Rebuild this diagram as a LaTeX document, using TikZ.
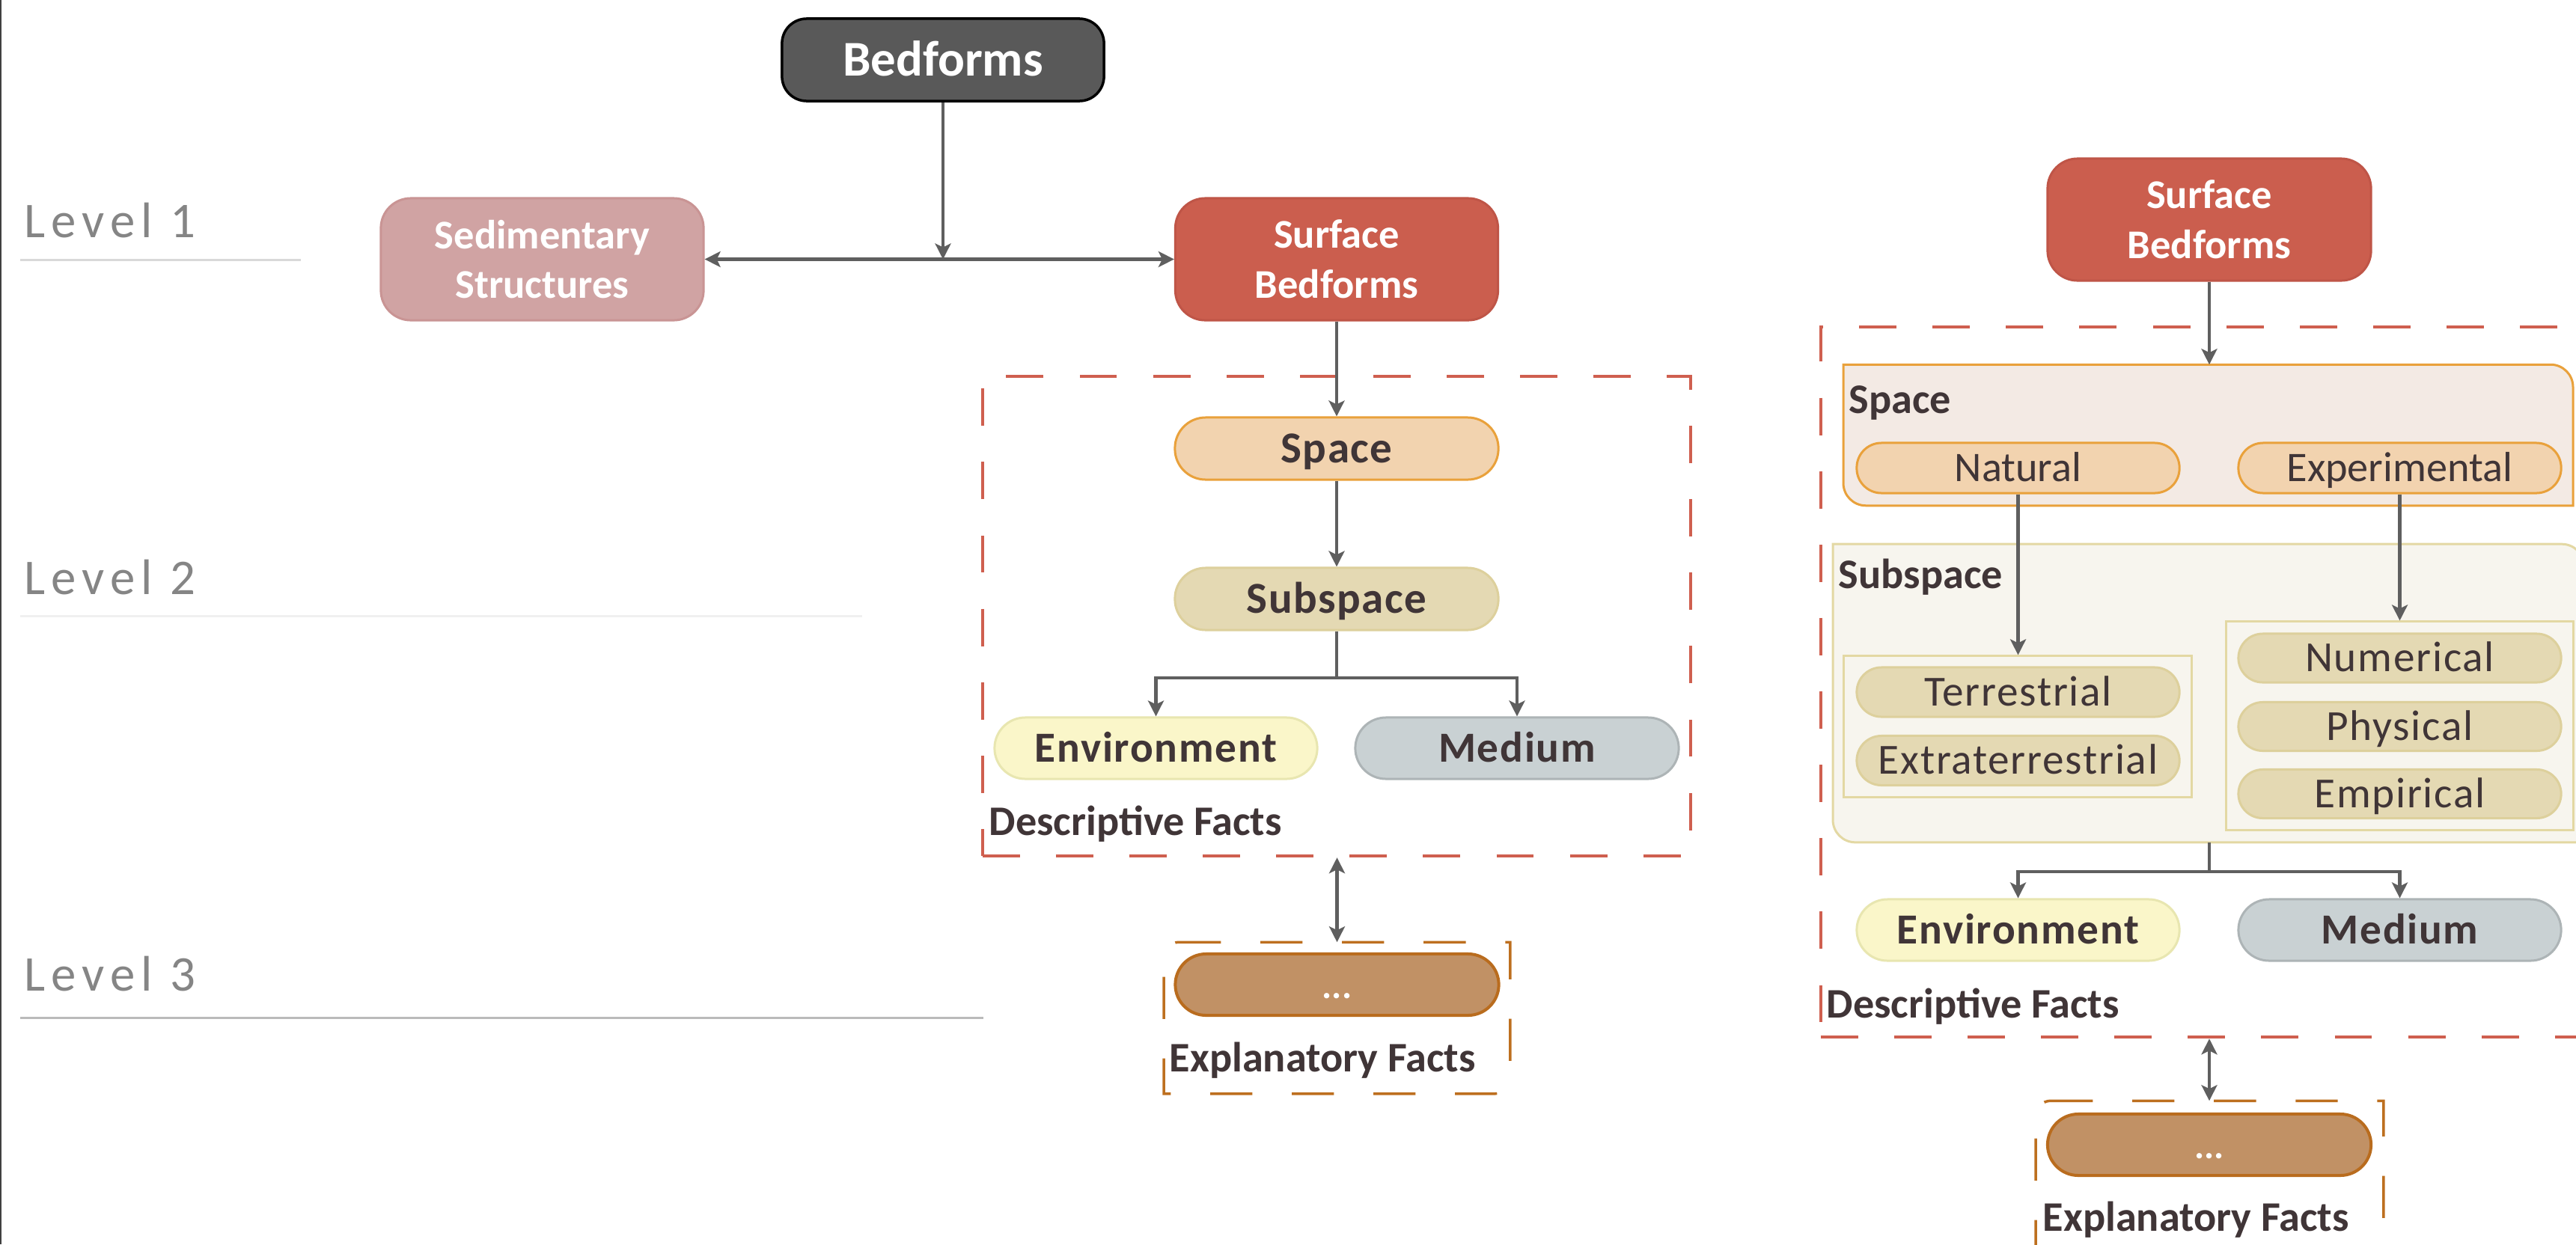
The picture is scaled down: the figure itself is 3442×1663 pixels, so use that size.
\documentclass[tikz,border=0pt]{standalone}
\usepackage{fontspec}
\setmainfont{Carlito}
\usetikzlibrary{arrows.meta}
\definecolor{txtc}{HTML}{403537}
\definecolor{arrowc}{HTML}{5F5F5F}
\definecolor{bedfill}{HTML}{595959}
\definecolor{sedfill}{HTML}{D0A3A3}
\definecolor{sedline}{HTML}{C99494}
\definecolor{surffill}{HTML}{CB5E4E}
\definecolor{surfline}{HTML}{BF5547}
\definecolor{spacefill}{HTML}{F2D3AF}
\definecolor{spaceline}{HTML}{E9A13B}
\definecolor{subfill}{HTML}{E4D9B3}
\definecolor{subline}{HTML}{DDD09C}
\definecolor{envfill}{HTML}{FAF6C9}
\definecolor{envline}{HTML}{E8E6B0}
\definecolor{medfill}{HTML}{C9D1D3}
\definecolor{medline}{HTML}{ADB4B6}
\definecolor{dotfill}{HTML}{C19165}
\definecolor{dotline}{HTML}{B96C1E}
\definecolor{expline}{HTML}{BD6F1F}
\definecolor{reddash}{HTML}{CF5F4F}
\definecolor{sppanel}{HTML}{F3EAE4}
\definecolor{sbpanel}{HTML}{F7F5EE}
\definecolor{sbpline}{HTML}{E3D8A3}
\definecolor{levelc}{HTML}{858585}
\newcommand{\fntBig}{\fontsize{19pt}{23pt}\selectfont\bfseries}
\newcommand{\fntTwo}{\fontsize{15.5pt}{19pt}\selectfont\bfseries}
\newcommand{\fntPill}{\fontsize{16.8pt}{19pt}\selectfont\bfseries\addfontfeature{LetterSpace=2.5}}
\newcommand{\fntEnv}{\fontsize{16.3pt}{19pt}\selectfont\bfseries\addfontfeature{LetterSpace=3}}
\newcommand{\fntReg}{\fontsize{16pt}{19pt}\selectfont}
\newcommand{\fntRegS}{\fontsize{16.3pt}{19pt}\selectfont\addfontfeature{LetterSpace=3}}
\newcommand{\fntLab}{\fontsize{16pt}{19pt}\selectfont\bfseries}
\newcommand{\fntLabB}{\fontsize{16pt}{19pt}\selectfont\bfseries}
\newcommand{\fntLevel}{\fontsize{19pt}{23pt}\selectfont\addfontfeature{LetterSpace=12}}
\newcommand{\fntDots}{\fontsize{14pt}{16pt}\selectfont\bfseries}
\begin{document}
\begin{tikzpicture}[x=0.01cm,y=-0.01cm,
  >={Stealth[length=0.21cm,width=0.21cm,inset=0.05cm]},
  pill/.style={rectangle, inner sep=0pt, line width=0.03cm},
  arr/.style={draw=arrowc, line width=0.045cm, ->},
  darr/.style={draw=arrowc, line width=0.045cm, <->},
  plainline/.style={draw=arrowc, line width=0.045cm},
  capA/.style={text height=12pt, text depth=0pt},
  capP/.style={text height=10.6pt, text depth=0pt},
  capE/.style={text height=10.3pt, text depth=0pt},
  capR/.style={text height=10.3pt, text depth=0pt},
  lab/.style={inner sep=0pt, anchor=base west, text=txtc},
  levellab/.style={inner sep=0pt, anchor=base west, text=levelc, font=\fntLevel},
  reddashed/.style={draw=reddash, line width=0.04cm, dash pattern=on 14.2pt off 13.7pt},
  expdashed/.style={draw=expline, line width=0.035cm, dash pattern=on 16pt off 15pt},
  ghost/.style={rectangle, inner sep=0pt, draw=none}
]
\useasboundingbox (0,0) rectangle (3442,1663);
\fill[white] (0,0) rectangle (3442,1663);
\clip (0,0) rectangle (3442,1663);

% left edge line
\draw[line width=0.025cm, color=black!75] (1,0) -- (1,1663);

% level lines and labels
\draw[line width=0.03cm, color=black!15] (27,347) -- (402,347);
\draw[line width=0.03cm, color=black!6] (27,823) -- (1152,823);
\draw[line width=0.03cm, color=black!27] (27,1360) -- (1314,1360);
\node[levellab] (lv1) at (32,317) {Level 1};
\node[levellab] (lv2) at (32,794) {Level 2};
\node[levellab] (lv3) at (32,1324) {Level 3};

% ===== left diagram =====
\node[reddashed, rectangle, minimum width=9.46cm, minimum height=6.41cm, inner sep=0pt] (red1) at (1786,823.5) {};

\node[pill, draw=black, fill=bedfill, rounded corners=0.33cm, minimum width=4.30cm, minimum height=1.10cm, text=white, font=\fntBig, capA, line width=0.035cm] (bed) at (1260,80) {Bedforms};
\node[pill, draw=sedline, fill=sedfill, rounded corners=0.4cm, minimum width=4.31cm, minimum height=1.63cm, text=white, font=\fntTwo, align=center] (sed) at (724.5,346.5) {Sedimentary\\Structures};
\node[pill, draw=surfline, fill=surffill, rounded corners=0.4cm, minimum width=4.31cm, minimum height=1.63cm, text=white, font=\fntTwo, align=center] (surf1) at (1786,346.5) {Surface\\Bedforms};

\node[pill, draw=spaceline, fill=spacefill, rounded corners=0.41cm, minimum width=4.32cm, minimum height=0.83cm, text=txtc, font=\fntPill, capP] (space1) at (1786,599.5) {Space};
\node[pill, draw=subline, fill=subfill, rounded corners=0.41cm, minimum width=4.32cm, minimum height=0.83cm, text=txtc, font=\fntPill, capP] (sub1) at (1786,800.5) {Subspace};
\node[pill, draw=envline, fill=envfill, rounded corners=0.41cm, minimum width=4.31cm, minimum height=0.82cm, text=txtc, font=\fntEnv, capE] (env1) at (1544.5,1000) {Environment};
\node[pill, draw=medline, fill=medfill, rounded corners=0.41cm, minimum width=4.32cm, minimum height=0.82cm, text=txtc, font=\fntEnv, capE] (med1) at (2027,1000) {Medium};
\node[lab, font=\fntLab] (df1) at (1321,1116) {Descriptive Facts};

\node[ghost, minimum width=4.61cm, minimum height=2.01cm] (expl1) at (1786.5,1360.5) {};
\draw[expdashed] ([xshift=0.2cm]expl1.north west) -- (expl1.north east) -- ([yshift=0.2cm]expl1.south east) arc[start angle=0,end angle=-90,radius=0.2cm] -- (expl1.south west) -- ([yshift=-0.2cm]expl1.north west) arc[start angle=180,end angle=90,radius=0.2cm] -- cycle;
\node[pill, draw=dotline, fill=dotfill, rounded corners=0.41cm, minimum width=4.32cm, minimum height=0.82cm, text=white, font=\fntDots, text height=0.36cm, text depth=0pt, line width=0.04cm] (dots1) at (1786.5,1316) {...};
\node[lab, font=\fntLab] (ef1) at (1562,1432) {Explanatory Facts};

\coordinate (j1) at (1260,346.5);
\draw[arr] (bed) -- (j1);
\draw[darr] (sed) -- (surf1);
\draw[arr] (surf1) -- (space1);
\draw[arr] (space1) -- (sub1);
\coordinate (b1) at (1786,906);
\draw[plainline] (sub1) -- (b1);
\draw[arr] (b1) -| (env1.north);
\draw[arr] (b1) -| (med1.north);
\draw[darr] (red1.south -| expl1.north) -- (expl1.north);

% ===== right diagram =====
\node[reddashed, rectangle, minimum width=10.47cm, minimum height=9.49cm, inner sep=0pt] (red2) at (2956.5,911.5) {};

\node[pill, draw=surfline, fill=surffill, rounded corners=0.4cm, minimum width=4.32cm, minimum height=1.63cm, text=white, font=\fntTwo, align=center] (surf2) at (2952,293.5) {Surface\\Bedforms};

% space panel
\node[ghost, minimum width=9.73cm, minimum height=1.87cm] (spacep) at (2950.5,581.5) {};
\draw[fill=sppanel, draw=spaceline, line width=0.03cm] (spacep.north west) -- ([xshift=-0.3cm]spacep.north east) arc[start angle=90,end angle=0,radius=0.3cm] -- (spacep.south east) -- ([xshift=0.3cm]spacep.south west) arc[start angle=270,end angle=180,radius=0.3cm] -- cycle;
\node[lab, font=\fntLabB] (spl) at (2470,552) {Space};
\node[pill, draw=spaceline, fill=spacefill, rounded corners=0.33cm, minimum width=4.31cm, minimum height=0.67cm, text=txtc, font=\fntReg, capR] (nat) at (2696.5,625.5) {Natural};
\node[pill, draw=spaceline, fill=spacefill, rounded corners=0.33cm, minimum width=4.31cm, minimum height=0.67cm, text=txtc, font=\fntReg, capR] (expm) at (3206.5,625.5) {Experimental};

% subspace panel
\node[ghost, minimum width=10.02cm, minimum height=3.97cm] (subp) at (2951,926.5) {};
\draw[fill=sbpanel, draw=sbpline, line width=0.03cm] (subp.north west) -- ([xshift=-0.3cm]subp.north east) arc[start angle=90,end angle=0,radius=0.3cm] -- (subp.south east) -- ([xshift=0.3cm]subp.south west) arc[start angle=270,end angle=180,radius=0.3cm] -- cycle;
\node[lab, font=\fntLabB] (sbl) at (2456,786) {Subspace};

\node[rectangle, inner sep=0pt, draw=sbpline, fill=sbpanel, line width=0.03cm, minimum width=4.64cm, minimum height=1.88cm] (grpL) at (2696,971) {};
\node[rectangle, inner sep=0pt, draw=sbpline, fill=sbpanel, line width=0.03cm, minimum width=4.63cm, minimum height=2.78cm] (grpR) at (3206.5,970) {};

\node[pill, draw=subline, fill=subfill, rounded corners=0.33cm, minimum width=4.31cm, minimum height=0.66cm, text=txtc, font=\fntRegS, capR] (terr) at (2696.5,925) {Terrestrial};
\node[pill, draw=subline, fill=subfill, rounded corners=0.33cm, minimum width=4.31cm, minimum height=0.66cm, text=txtc, font=\fntRegS, capR] (extr) at (2696.5,1016.5) {Extraterrestrial};
\node[pill, draw=subline, fill=subfill, rounded corners=0.325cm, minimum width=4.31cm, minimum height=0.65cm, text=txtc, font=\fntRegS, capR] (num) at (3206.5,879.5) {Numerical};
\node[pill, draw=subline, fill=subfill, rounded corners=0.325cm, minimum width=4.31cm, minimum height=0.65cm, text=txtc, font=\fntRegS, capR] (phys) at (3206.5,971) {Physical};
\node[pill, draw=subline, fill=subfill, rounded corners=0.325cm, minimum width=4.31cm, minimum height=0.65cm, text=txtc, font=\fntRegS, capR] (emp) at (3206.5,1061) {Empirical};

\node[pill, draw=envline, fill=envfill, rounded corners=0.41cm, minimum width=4.31cm, minimum height=0.82cm, text=txtc, font=\fntEnv, capE] (env2) at (2696.5,1243) {Environment};
\node[pill, draw=medline, fill=medfill, rounded corners=0.41cm, minimum width=4.31cm, minimum height=0.82cm, text=txtc, font=\fntEnv, capE] (med2) at (3206.5,1243) {Medium};
\node[lab, font=\fntLab] (df2) at (2440,1360) {Descriptive Facts};

\node[ghost, minimum width=4.63cm, minimum height=2.01cm] (expl2) at (2952.5,1572.5) {};
\draw[expdashed] ([xshift=0.2cm]expl2.north west) -- (expl2.north east) -- ([yshift=0.2cm]expl2.south east) arc[start angle=0,end angle=-90,radius=0.2cm] -- (expl2.south west) -- ([yshift=-0.2cm]expl2.north west) arc[start angle=180,end angle=90,radius=0.2cm] -- cycle;
\node[pill, draw=dotline, fill=dotfill, rounded corners=0.41cm, minimum width=4.32cm, minimum height=0.82cm, text=white, font=\fntDots, text height=0.36cm, text depth=0pt, line width=0.04cm] (dots2) at (2952,1530) {...};
\node[lab, font=\fntLab] (ef2) at (2729,1645) {Explanatory Facts};

\draw[arr] (surf2) -- (surf2 |- spacep.north);
\draw[arr] (nat.south) -- (nat.south |- grpL.north);
\draw[arr] (expm.south) -- (expm.south |- grpR.north);
\coordinate (b2) at (2952,1165);
\draw[plainline] (b2 |- subp.south) -- (b2);
\draw[arr] (b2) -| (env2.north);
\draw[arr] (b2) -| (med2.north);
\draw[darr] (red2.south -| dots2) -- (expl2.north -| dots2);
\end{tikzpicture}
\end{document}
